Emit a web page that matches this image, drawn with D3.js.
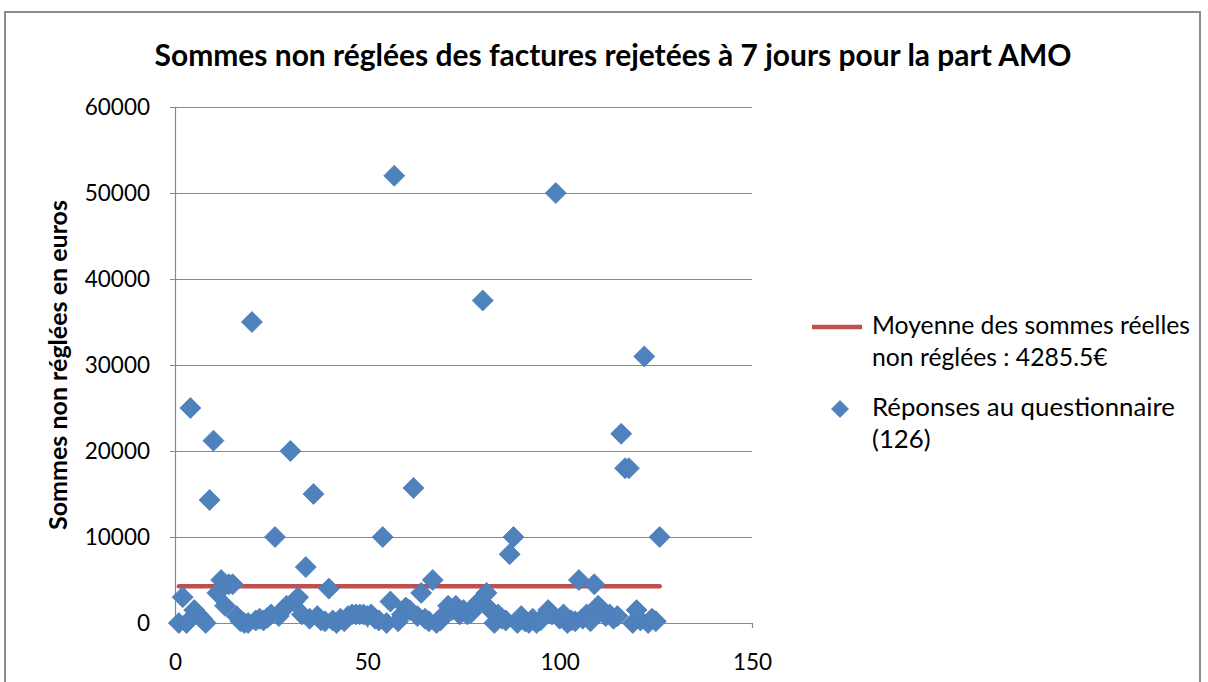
<!DOCTYPE html>
<html>
<head>
<meta charset="utf-8">
<script src="https://cdn.jsdelivr.net/npm/d3@7"></script>
<style>
  html, body { margin: 0; padding: 0; background: #fff; }
  svg { display: block; }
  text { font-family: Lato, "Open Sans", sans-serif; fill: #000; }
</style>
</head>
<body>
<svg id="chart" width="1208" height="682"></svg>
<script>
// ---- data ----
const chartTitle = "Sommes non réglées des factures rejetées à 7 jours pour la part AMO";
const yAxisTitle = "Sommes non réglées en euros";
const meanLabel = ["Moyenne des sommes réelles", "non réglées : 4285.5€"];
const pointsLabel = ["Réponses au questionnaire", "(126)"];
const meanValue = 4285.5;
const meanRange = [1, 126];
const yTicks = [0, 10000, 20000, 30000, 40000, 50000, 60000];
const xTicks = [0, 50, 100, 150];
// amounts for respondents 1..126
const amounts = [
  0, 3000, 0, 25000, 1500, 1000, 500, 0, 14300, 21200,
  3500, 5000, 2000, 4500, 4500, 800, 200, 0, 0, 35000,
  300, 500, 300, 600, 1000, 10000, 800, 1500, 2000, 20000,
  2500, 3000, 1000, 6500, 500, 15000, 800, 300, 200, 4000,
  300, 0, 500, 200, 800, 1000, 1000, 1000, 1000, 800,
  1000, 500, 300, 10000, 0, 2500, 52000, 200, 1000, 1800,
  1500, 15700, 800, 3500, 500, 200, 5000, 0, 300, 1000,
  2000, 1500, 2000, 1000, 1500, 1000, 1200, 2000, 2500, 37500,
  3500, 1500, 0, 1000, 500, 300, 8000, 10000, 0, 800,
  200, 0, 500, 0, 300, 800, 1500, 1000, 50000, 500,
  1000, 0, 300, 200, 5000, 500, 1000, 200, 4500, 2000,
  1500, 800, 1000, 500, 800, 22000, 18000, 18000, 0, 1500,
  300, 31000, 0, 500, 200, 10000
];

// ---- layout ----
const svg = d3.select("#chart");
const plot = { left: 175, right: 752, top: 107, bottom: 623 };
const blue = "#4F81BD", red = "#C0504D", grid = "#888888";

const x = d3.scaleLinear().domain([0, 150]).range([plot.left, plot.right]);
const y = d3.scaleLinear().domain([0, 60000]).range([plot.bottom, plot.top]);

function fit(sel, target) {
  const node = sel.node();
  const fs = parseFloat(sel.attr("font-size"));
  const w = node.getComputedTextLength();
  const nfs = fs * target / w;
  sel.attr("font-size", nfs.toFixed(2));
  return nfs;
}

// chart border
svg.append("rect").attr("x", 5).attr("y", 12).attr("width", 1195).attr("height", 700)
  .attr("fill", "none").attr("stroke", "#8c8c8c").attr("stroke-width", 2);

// title
fit(svg.append("text").attr("x", 613).attr("y", 66).attr("text-anchor", "middle")
  .attr("font-weight", "bold").attr("font-size", 24).text(chartTitle), 917);

// gridlines
svg.append("g").selectAll("line").data(yTicks.filter(d => d > 0)).join("line")
  .attr("x1", plot.left).attr("x2", plot.right)
  .attr("y1", d => y(d) + 0.5).attr("y2", d => y(d) + 0.5)
  .attr("stroke", grid).attr("stroke-width", 1.2);

// y axis
const yAxis = svg.append("g").attr("transform", `translate(${plot.left},0)`)
  .call(d3.axisLeft(y).tickValues(yTicks).tickSize(5).tickPadding(20).tickFormat(d3.format("d")));
yAxis.select(".domain").attr("stroke", grid).attr("stroke-width", 1.2);
yAxis.selectAll(".tick line").attr("stroke", grid);
yAxis.selectAll(".tick text").attr("font-size", 22.5).attr("font-family", "Lato, sans-serif").attr("fill", "#000");

// x axis
const xAxis = svg.append("g").attr("transform", `translate(0,${plot.bottom})`)
  .call(d3.axisBottom(x).tickValues(xTicks).tickSize(5).tickPadding(26).tickFormat(d3.format("d")));
xAxis.select(".domain").attr("stroke", grid).attr("stroke-width", 1.2);
xAxis.selectAll(".tick line").attr("stroke", grid);
xAxis.selectAll(".tick text").attr("font-size", 22.5).attr("font-family", "Lato, sans-serif").attr("fill", "#000");

// y axis title
fit(svg.append("text").attr("transform", "translate(67,365) rotate(-90)")
  .attr("text-anchor", "middle").attr("font-weight", "bold").attr("font-size", 20)
  .text(yAxisTitle), 330);

// mean line
svg.append("line")
  .attr("x1", x(meanRange[0])).attr("x2", x(meanRange[1]))
  .attr("y1", y(meanValue)).attr("y2", y(meanValue))
  .attr("stroke", red).attr("stroke-width", 4.5).attr("stroke-linecap", "round");

// points
const diamond = (r) => `M0,${-r}L${r},0L0,${r}L${-r},0Z`;
svg.append("g").selectAll("path").data(amounts).join("path")
  .attr("transform", (d, i) => `translate(${x(i + 1)},${y(d)})`)
  .attr("d", diamond(10.5))
  .attr("fill", blue).attr("stroke", "#4A7EBB").attr("stroke-width", 0.8);

// legend
svg.append("line").attr("x1", 812).attr("x2", 862).attr("y1", 327).attr("y2", 327)
  .attr("stroke", red).attr("stroke-width", 4.5);
const lfs = fit(svg.append("text").attr("x", 872).attr("y", 334).attr("font-size", 20).text(meanLabel[0]), 318);
svg.append("text").attr("x", 872).attr("y", 366).attr("font-size", lfs.toFixed(2)).text(meanLabel[1]);
svg.append("path").attr("transform", "translate(840,409)").attr("d", diamond(8.5))
  .attr("fill", blue).attr("stroke", "#4A7EBB").attr("stroke-width", 0.8);
const pfs = fit(svg.append("text").attr("x", 872).attr("y", 416).attr("font-size", 20).text(pointsLabel[0]), 303);
svg.append("text").attr("x", 872).attr("y", 448).attr("font-size", pfs.toFixed(2)).text(pointsLabel[1]);
</script>
</body>
</html>
